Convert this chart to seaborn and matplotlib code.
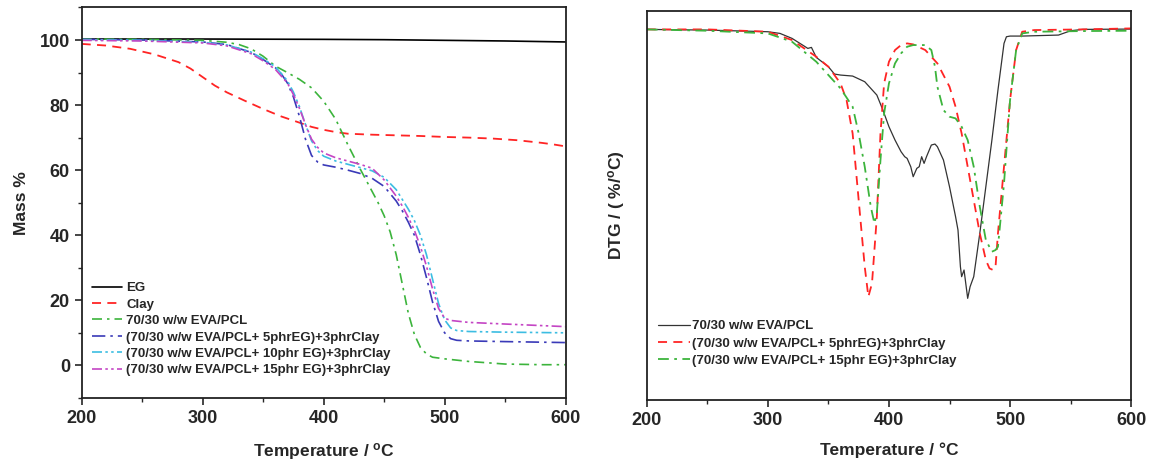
import matplotlib
matplotlib.use("Agg")
import matplotlib.pyplot as plt
from matplotlib.ticker import MultipleLocator
import seaborn as sns

# ---- TGA (left) ----
eg_t = [200, 300, 400, 450, 500, 550, 600]
eg_m = [100.3, 100.3, 100.2, 100.1, 99.9, 99.7, 99.4]

clay_t = [200, 220, 240, 260, 280, 290, 300, 310, 320, 335, 350, 365, 380, 390, 400,
          410, 420, 440, 460, 480, 500, 520, 540, 560, 580, 590, 600]
clay_m = [98.8, 98.3, 97.3, 95.6, 93.2, 91.2, 88.6, 86.0, 83.9, 81.3, 78.8, 76.5, 74.6,
          73.3, 72.4, 71.7, 71.2, 70.9, 70.7, 70.5, 70.2, 70.0, 69.7, 69.2, 68.4, 67.9, 67.3]

blend_t = [200, 250, 300, 320, 330, 340, 350, 360, 370, 380, 390, 400, 410, 420, 430,
           440, 445, 450, 455, 460, 465, 470, 475, 480, 485, 490, 500, 520, 550, 580, 600]
blend_m = [100.3, 100.2, 99.9, 99.3, 98.6, 97.3, 95.0, 92.0, 90.0, 87.9, 85.3, 81.2, 75.6,
           67.8, 60.5, 53.5, 50.0, 46.0, 41.0, 34.0, 25.0, 16.0, 9.5, 5.5, 3.5, 2.5, 2.0,
           1.2, 0.4, 0.2, 0.2]

eg5_t = [200, 250, 300, 320, 340, 350, 360, 365, 370, 375, 380, 385, 390, 395, 400, 410,
         420, 430, 440, 450, 460, 465, 470, 475, 480, 485, 490, 495, 500, 505, 510, 520,
         550, 600]
eg5_m = [100.2, 100.0, 99.4, 98.6, 96.2, 94.0, 91.5, 89.6, 86.8, 82.5, 76.5, 69.5, 64.5,
         62.5, 61.6, 60.9, 60.0, 59.0, 57.5, 55.0, 50.5, 47.5, 44.0, 40.0, 34.0, 27.0,
         19.5, 13.5, 10.0, 8.2, 7.7, 7.5, 7.3, 7.0]

eg10_t = [200, 250, 300, 320, 340, 350, 360, 370, 375, 380, 385, 390, 395, 400, 410, 420,
          430, 440, 450, 460, 465, 470, 475, 480, 485, 490, 495, 500, 505, 510, 520, 550, 600]
eg10_m = [100.1, 99.9, 99.3, 98.5, 96.3, 94.2, 91.8, 87.5, 84.0, 79.5, 74.0, 69.0, 66.0,
          64.3, 62.8, 61.8, 60.8, 59.8, 57.8, 54.0, 51.0, 48.0, 44.5, 40.0, 34.0, 26.5,
          19.0, 14.0, 11.5, 10.7, 10.4, 10.2, 10.0]

eg15_t = eg10_t
eg15_m = [99.9, 99.7, 99.1, 98.2, 95.8, 93.6, 91.0, 86.8, 83.2, 79.0, 74.0, 69.5, 67.0,
          65.3, 63.8, 62.8, 61.8, 60.6, 57.0, 52.0, 49.0, 45.5, 41.5, 36.5, 30.5, 23.5,
          17.5, 14.5, 13.8, 13.6, 13.2, 12.7, 11.9]

# ---- DTG (right), arbitrary units ----
dtg_blend_t = [200, 250, 300, 310, 320, 330, 333, 336, 340, 350, 355, 360, 370, 380, 390,
               395, 400, 405, 410, 413, 415, 418, 420, 423, 425, 427, 429, 431, 435, 438,
               440, 445, 450, 455, 457, 459, 460, 462, 465, 467, 470, 475, 480, 485, 490,
               495, 497, 500, 510, 540, 550, 560, 600]
dtg_blend = [0, -0.02, -0.07, -0.12, -0.27, -0.50, -0.57, -0.54, -0.84, -1.12, -1.34, -1.37,
             -1.40, -1.57, -1.97, -2.42, -2.92, -3.32, -3.67, -3.82, -3.87, -4.12, -4.42,
             -4.17, -4.12, -3.82, -4.02, -3.82, -3.47, -3.44, -3.52, -3.92, -4.72, -5.62,
             -6.02, -7.12, -7.42, -7.22, -8.07, -7.72, -7.42, -6.12, -4.72, -3.32, -1.82,
             -0.42, -0.22, -0.20, -0.20, -0.17, -0.04, 0, 0.01]

dtg_eg5_t = [200, 250, 300, 320, 340, 350, 360, 365, 370, 375, 380, 383, 386, 390, 393,
             396, 400, 405, 410, 415, 420, 430, 440, 450, 455, 460, 465, 470, 475, 480,
             483, 486, 488, 490, 495, 500, 505, 510, 520, 560, 600]
dtg_eg5 = [0, 0, -0.07, -0.32, -0.82, -1.12, -1.62, -2.12, -3.12, -5.12, -7.12, -8.02,
           -7.62, -5.62, -3.12, -1.62, -0.97, -0.62, -0.47, -0.42, -0.45, -0.62, -1.02,
           -1.72, -2.32, -3.12, -4.12, -5.12, -6.12, -6.92, -7.17, -7.22, -7.12, -6.12,
           -4.12, -2.12, -0.62, -0.07, -0.02, 0, 0.03]

dtg_eg15_t = [200, 250, 300, 320, 340, 350, 360, 370, 375, 380, 385, 388, 390, 393, 396,
              400, 405, 410, 415, 420, 430, 435, 438, 440, 445, 450, 455, 460, 465, 470,
              475, 480, 485, 488, 490, 495, 500, 505, 510, 520, 560, 600]
dtg_eg15 = [0, -0.04, -0.12, -0.37, -0.97, -1.37, -1.77, -2.32, -3.12, -4.12, -5.32, -5.82,
            -5.52, -3.92, -2.52, -1.62, -1.02, -0.72, -0.52, -0.47, -0.47, -0.62, -1.12,
            -1.72, -2.42, -2.62, -2.67, -2.92, -3.32, -4.12, -5.32, -6.32, -6.67, -6.62,
            -6.52, -4.62, -2.12, -0.62, -0.12, -0.07, -0.05, -0.04]

lbl_blend = "70/30 w/w EVA/PCL"
lbl_5 = "(70/30 w/w EVA/PCL+ 5phrEG)+3phrClay"
lbl_10 = "(70/30 w/w EVA/PCL+ 10phr EG)+3phrClay"
lbl_15 = "(70/30 w/w EVA/PCL+ 15phr EG)+3phrClay"

sns.set_style("ticks")
plt.rcParams["font.family"] = ["Liberation Sans", "DejaVu Sans"]
plt.rcParams["font.weight"] = "bold"
plt.rcParams["axes.labelweight"] = "bold"
plt.rcParams["mathtext.default"] = "regular"

fig = plt.figure(figsize=(11.59, 4.67), dpi=100)
ax1 = fig.add_axes([0.0705, 0.148, 0.4175, 0.836])
ax2 = fig.add_axes([0.558, 0.1435, 0.418, 0.8335])

red = "#ff2424"
green = "#3cb43c"
blue = "#3a3ab8"
cyan = "#3cbde2"
mag = "#c445c4"

sns.lineplot(x=eg_t, y=eg_m, ax=ax1, color="black", lw=1.2, label="EG")
sns.lineplot(x=clay_t, y=clay_m, ax=ax1, color=red, lw=1.3, dashes=(5, 3.5), label="Clay")
sns.lineplot(x=blend_t, y=blend_m, ax=ax1, color=green, lw=1.2, dashes=(6, 3, 1.5, 3), label=lbl_blend)
sns.lineplot(x=eg5_t, y=eg5_m, ax=ax1, color=blue, lw=1.2, dashes=(8, 3, 1.5, 3), label=lbl_5)
sns.lineplot(x=eg10_t, y=eg10_m, ax=ax1, color=cyan, lw=1.2, dashes=(6, 2, 1.5, 2, 1.5, 2), label=lbl_10)
sns.lineplot(x=eg15_t, y=eg15_m, ax=ax1, color=mag, lw=1.2, dashes=(6, 2, 1.5, 2, 1.5, 2), label=lbl_15)

ax1.set_xlim(200, 600)
ax1.set_ylim(-10, 110)
ax1.xaxis.set_major_locator(MultipleLocator(100))
ax1.xaxis.set_minor_locator(MultipleLocator(50))
ax1.yaxis.set_major_locator(MultipleLocator(20))
ax1.yaxis.set_minor_locator(MultipleLocator(10))
ax1.set_xlabel("Temperature / $^{o}$C", fontsize=12.5, labelpad=10)
ax1.set_ylabel("Mass %", fontsize=12.5, labelpad=8)

sns.lineplot(x=dtg_blend_t, y=dtg_blend, ax=ax2, color="#333333", lw=0.9, label=lbl_blend)
sns.lineplot(x=dtg_eg5_t, y=dtg_eg5, ax=ax2, color=red, lw=1.3, dashes=(5, 3.5), label=lbl_5)
sns.lineplot(x=dtg_eg15_t, y=dtg_eg15, ax=ax2, color=green, lw=1.3, dashes=(6, 3, 1.5, 3), label=lbl_15)

ax2.set_xlim(200, 600)
ax2.set_ylim(-11.12, 0.56)
ax2.xaxis.set_major_locator(MultipleLocator(100))
ax2.xaxis.set_minor_locator(MultipleLocator(50))
ax2.set_yticks([])
ax2.set_xlabel("Temperature / °C", fontsize=12.5, labelpad=10)
ax2.set_ylabel("DTG / ( %/$^{o}$C)", fontsize=12.5, labelpad=14)

for ax in (ax1, ax2):
    for s in ax.spines.values():
        s.set_linewidth(1.3)
        s.set_color("#222222")
    ax.tick_params(which="major", direction="out", length=5, width=1.2, labelsize=13)
    ax.tick_params(which="minor", direction="out", length=3, width=1.0)
    for t in ax.get_xticklabels() + ax.get_yticklabels():
        t.set_fontweight("bold")

ax1.legend(loc="upper left", bbox_to_anchor=(0.021, 0.297), frameon=False,
           handlelength=2.3, handletextpad=0.3, labelspacing=0.32, borderpad=0, borderaxespad=0,
           prop={"weight": "bold", "size": 9.5})
ax2.legend(loc="upper left", bbox_to_anchor=(0.023, 0.205), frameon=False,
           handlelength=2.4, handletextpad=0.2, labelspacing=0.38, borderpad=0, borderaxespad=0,
           prop={"weight": "bold", "size": 9.5})

fig.savefig("out.png", dpi=100)
